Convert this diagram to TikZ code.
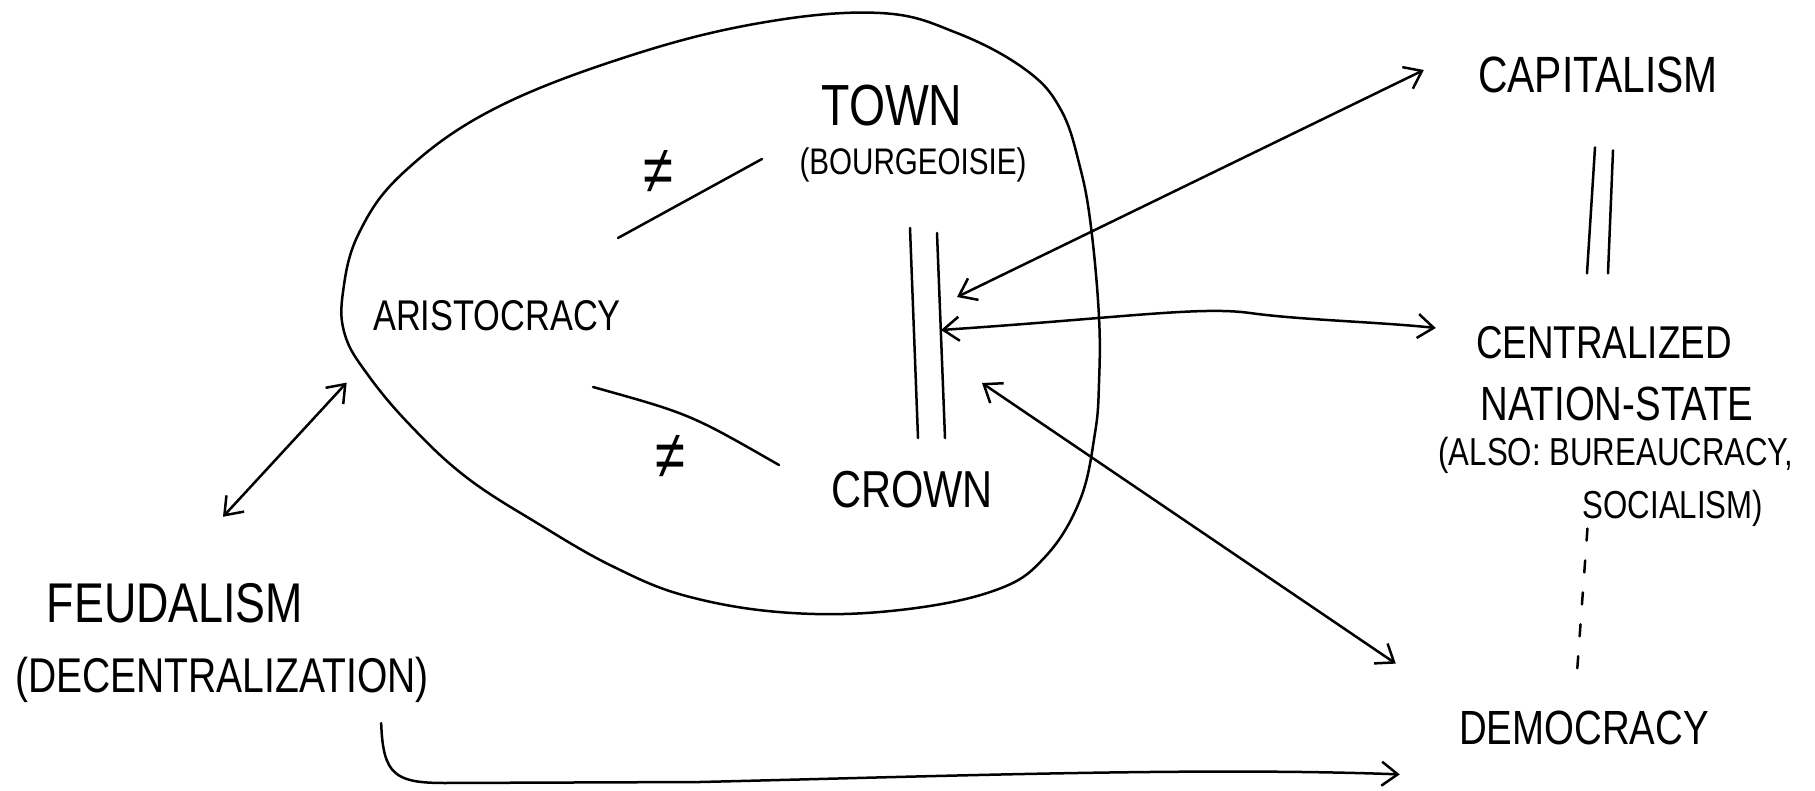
\documentclass[tikz,border=0pt]{standalone}
\usepackage{fontspec}
\setmainfont{Liberation Sans}
\newfontfamily\handfont[FakeStretch=0.8]{Liberation Sans}
\usetikzlibrary{arrows.meta, calc}

\begin{document}
\begin{tikzpicture}[
    x=0.5pt, y=-0.5pt,
    every node/.style={inner sep=0pt},
    hand/.style={font=\handfont\fontsize{#1}{#1}\selectfont},
    pen/.style={line width=1.25pt, line cap=round, line join=round},
    arrow/.style={pen, -{Straight Barb[length=8pt, width=12pt]}},
    dblarrow/.style={pen, {Straight Barb[length=8pt, width=12pt]}-{Straight Barb[length=8pt, width=12pt]}}
]
\useasboundingbox (0,0) rectangle (1815,791);

% ============ THE BLOB ============
\draw[pen] plot[smooth cycle, tension=0.65] coordinates {
    (343,292) (359,233) (403,173) (492,110) (626,57) (760,23) (880,13)
    (957,33) (1026,70) (1061,110) (1080,167) (1091,227) (1099,317)
    (1099,383) (1095,433) (1080,500) (1045,557) (996,590) (900,610)
    (792,613) (690,597) (614,567) (537,523) (466,477) (410,425)
    (368,375) (345,335)};

% ============ INSIDE ============
\node[hand=29pt] (town) at (892,106) {TOWN};
\node[hand=18.5pt] (bourg) at (913,165) {(BOURGEOISIE)};
\node[hand=21.5pt] (aristo) at (497,316) {ARISTOCRACY};
\node[hand=26pt] (crown) at (912,490) {CROWN};

\node[hand=34pt] (neqtop) at (658,172) {≠};
\node[hand=34pt] (neqbot) at (670,457) {≠};

% links aristocracy / town, aristocracy / crown
\coordinate (linkAa) at (618,238);
\coordinate (linkAb) at (762,159);
\coordinate (linkBa) at (593,387);
\coordinate (linkBb) at (779,465);
\draw[pen] (linkAa) -- (linkAb);
\draw[pen] (linkBa) .. controls (690,414) .. (linkBb);

% double bar town = crown
\coordinate (barLa) at (910,228);
\coordinate (barLb) at (918,438);
\coordinate (barRa) at (937,233);
\coordinate (barRb) at (945,438);
\draw[pen] (barLa) -- (barLb);
\draw[pen] (barRa) -- (barRb);

% arrow ends on the bar
\coordinate (hitcap) at (957,297);
\coordinate (hitcen) at (941,330);
\coordinate (hitdem) at (982,383);

% ============ RIGHT COLUMN ============
\node[hand=25.5pt] (capital) at (1598,75) {CAPITALISM};
\node[hand=23pt] (central) at (1604,343) {CENTRALIZED};
\node[hand=24pt] (nation) at (1617,404) {NATION-STATE};
\node[hand=19.5pt] (also) at (1616,455) {(ALSO: BUREAUCRACY,};
\node[hand=19.5pt] (social) at (1673,508) {SOCIALISM)};
\node[hand=24pt] (democ) at (1584,728) {DEMOCRACY};

% capitalism = centralized
\draw[pen] ($(capital.south)+(-3,54)$) -- ($(central.north)+(-17,-53)$);
\draw[pen] ($(capital.south)+(15,57)$) -- ($(central.north)+(4,-53)$);

% centralized - - democracy
\draw[pen, dash pattern=on 6pt off 10pt] ($(social.south west)+(5,2)$) -- ($(democ.north)+(-7,-38)$);

% ============ LEFT ============
\node[hand=28pt] (feudal) at (175,603) {FEUDALISM};
\node[hand=24.4pt] (decent) at (222,680) {(DECENTRALIZATION)};

% ============ ARROWS ============
\draw[dblarrow] (hitcap) -- ($(capital.west)+(-54,-5)$);
\draw[dblarrow] (hitcen) .. controls (1120,318) and (1200,306) .. (1250,313)
    .. controls (1300,320) and (1380,322) .. ($(central.west)+(-40,-15)$);
\draw[dblarrow] (hitdem) -- ($(democ.north west)+(-63,-47)$);
\draw[dblarrow] ($(feudal.north)+(48,-66)$) -- ($(aristo.south west)+(-26,51)$);
\draw[arrow] ($(decent.south east)+(-48,20)$) .. controls (383,775) and (395,783) .. (445,783)
    -- (700,782) .. controls (950,776) and (1200,767) .. ($(democ.south west)+(-59,29)$);

\end{tikzpicture}
\end{document}
